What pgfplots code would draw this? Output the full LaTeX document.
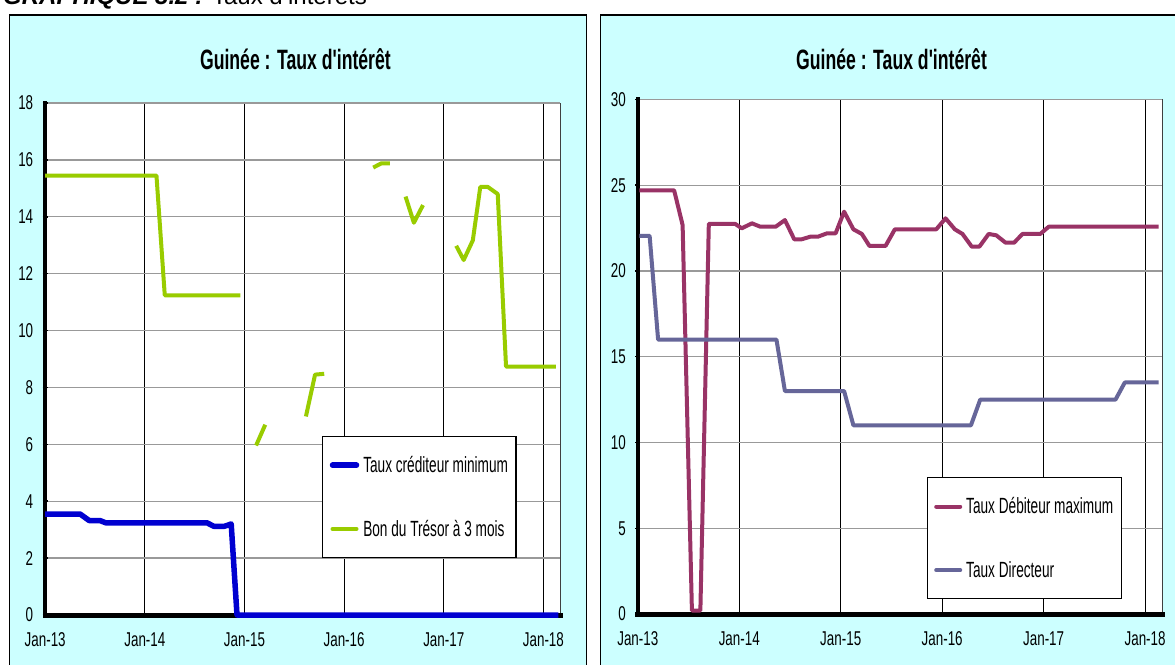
\documentclass[border=0pt]{standalone}
\usepackage{fontspec}
\setmainfont{Liberation Sans}
\newfontfamily\tickfont[FakeStretch=0.67]{Liberation Sans}
\newfontfamily\legfont[FakeStretch=0.62]{Liberation Sans}
\newfontfamily\titlefont[FakeStretch=0.63]{Liberation Sans}
\usepackage{pgfplots}
\pgfplotsset{compat=1.18}
\usepackage{pgfplotstable}

\definecolor{bg}{HTML}{CCFFFF}
\definecolor{cblue}{HTML}{0000D0}
\definecolor{cgreen}{HTML}{99CC00}
\definecolor{cplum}{HTML}{993366}
\definecolor{cslate}{HTML}{666699}
\definecolor{gridgrey}{HTML}{999999}

\pgfplotstableread{
x y
0 3.55
4.2 3.55
5.3 3.32
6.6 3.32
7.3 3.24
19.5 3.24
20.3 3.12
21.6 3.12
22.4 3.2
23.1 0
61.8 0
}\creditor

\pgfplotstableread{
x y
0 15.45
13.4 15.45
14.4 11.24
23.5 11.24
nan nan
25.4 5.96
26.5 6.69
nan nan
31.4 6.98
32.5 8.45
33.6 8.48
nan nan
39.5 15.73
40.5 15.88
41.5 15.88
nan nan
43.4 14.71
44.4 13.79
45.5 14.41
nan nan
49.5 12.98
50.4 12.48
51.5 13.17
52.4 15.05
53.3 15.05
54.5 14.80
55.5 8.73
61.5 8.73
}\tresor

\pgfplotstableread{
x y
0.2 24.7
4.3 24.7
5.3 22.68
6.4 0.2
7.4 0.2
8.4 22.75
11.5 22.75
12.3 22.49
13.5 22.78
14.5 22.58
16.3 22.58
17.4 22.97
18.5 21.85
19.4 21.85
20.4 22.0
21.3 22.0
22.4 22.2
23.4 22.2
24.4 23.46
25.5 22.43
26.5 22.16
27.4 21.46
29.3 21.46
30.4 22.43
35.3 22.43
36.4 23.07
37.5 22.43
38.4 22.16
39.5 21.42
40.4 21.42
41.5 22.16
42.4 22.08
43.5 21.65
44.5 21.65
45.5 22.16
47.6 22.16
48.6 22.58
61.6 22.58
}\debiteur

\pgfplotstableread{
x y
0.2 22.05
1.4 22.05
2.4 16
16.4 16
17.4 13
24.4 13
25.5 11
39.4 11
40.5 12.5
56.5 12.5
57.6 13.5
61.6 13.5
}\directeur

\pgfplotsset{
  panel/.style={
    scale only axis, anchor=south west,
    clip=false,
    xmin=0, xmax=62,
    xtick={0,12,24,36,48,60},
    xticklabels={Jan-13,Jan-14,Jan-15,Jan-16,Jan-17,Jan-18},
    tick pos=left,
    axis line style={draw=none},
    grid=major,
    x grid style={black, line width=0.9pt},
    y grid style={gridgrey, line width=1.4pt},
    tick style={black, line width=1.5pt},
    major tick length=5pt,
    tick align=center,
    ticklabel style={font=\tickfont\fontsize{20}{24}\selectfont},
    /pgf/number format/assume math mode=true,
    xticklabel style={yshift=-12pt},
    yticklabel style={xshift=-6pt},
    axis background/.style={fill=white},
    legend cell align=left,
    legend style={draw=black, line width=1.2pt, fill=white,
      font=\legfont\fontsize{22}{26}\selectfont,
      nodes={inner sep=1pt},
      column sep=3pt,
      row sep=44pt, inner xsep=7pt, inner ysep=19pt, anchor=north west},
    legend image code/.code={\draw[#1, line cap=round] (0pt,0pt) -- (24pt,0pt);},
    unbounded coords=jump,
  },
}

\begin{document}
\begin{tikzpicture}[x=1pt,y=1pt]
\useasboundingbox (0,0) rectangle (1175,664);
\fill[white] (0,0) rectangle (1175,664);
\draw[fill=bg, line width=1.2pt] (9.6,649) rectangle (586.3,-20);
\draw[fill=bg, line width=1.2pt] (600.4,649) rectangle (1190,-20);
\node[anchor=base west, inner sep=0] at (3,659) {\fontsize{24}{28}\selectfont\bfseries\itshape GRAPHIQUE 3.2 : \normalfont Taux d'intérêts};
\node[anchor=base, inner sep=0] at (295.4,594) {\titlefont\bfseries\fontsize{28}{32}\selectfont Guinée : Taux d'intérêt};
\node[anchor=base, inner sep=0] at (891.5,594) {\titlefont\bfseries\fontsize{28}{32}\selectfont Guinée : Taux d'intérêt};

\begin{axis}[panel, at={(45.2pt,49pt)}, width=514.8pt, height=512pt,
  ymin=0, ymax=18, ytick={0,2,...,18},
  legend style={at={(0.538,0.35)}}]
\addplot[black!75, line width=1pt, forget plot] coordinates {(62,0) (62,18)};
\addplot[black, line width=4pt, line cap=rect, forget plot] coordinates {(0,0) (0,18)};
\addplot[black, line width=5pt, line cap=rect, forget plot] coordinates {(0,0) (62,0)};
\addplot[cblue, line width=5.5pt, line join=round] table[x=x,y=y] {\creditor};
\addlegendentry{Taux créditeur minimum}
\addplot[cgreen, line width=4pt, line join=round] table[x=x,y=y] {\tresor};
\addlegendentry{Bon du Trésor à 3 mois}
\end{axis}

\begin{axis}[panel, at={(637.8pt,50pt)}, width=524.2pt, height=514.5pt,
  ymin=0, ymax=30, ytick={0,5,...,30},
  legend style={at={(0.551,0.266)}}]
\addplot[black!75, line width=1pt, forget plot] coordinates {(62,0) (62,30)};
\addplot[black, line width=4pt, line cap=rect, forget plot] coordinates {(0,0) (0,30)};
\addplot[black, line width=5pt, line cap=rect, forget plot] coordinates {(0,0) (62,0)};
\addplot[cplum, line width=4pt, line join=round] table[x=x,y=y] {\debiteur};
\addlegendentry{Taux Débiteur maximum}
\addplot[cslate, line width=4pt, line join=round] table[x=x,y=y] {\directeur};
\addlegendentry{Taux Directeur}
\end{axis}
\end{tikzpicture}
\end{document}
